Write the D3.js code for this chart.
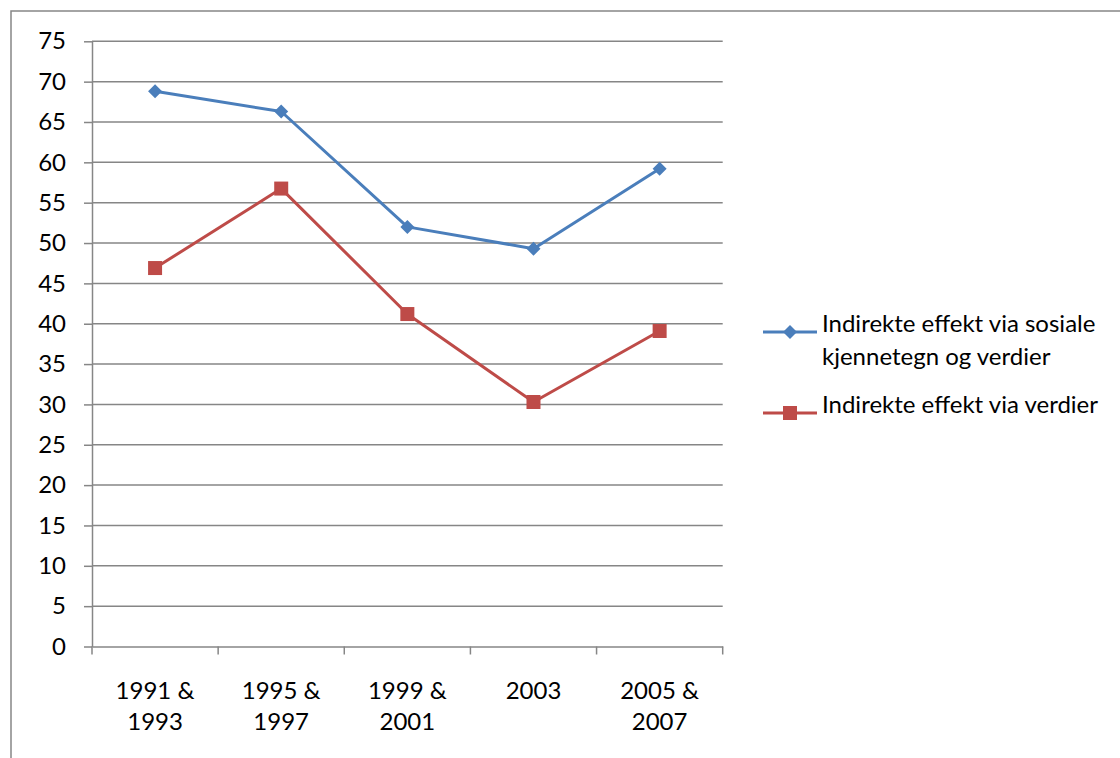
<!DOCTYPE html>
<html><head><meta charset="utf-8">
<script src="https://d3js.org/d3.v7.min.js"></script>
<style>
html,body{margin:0;padding:0;background:#fff;overflow:hidden}
text{font-family:Lato,"Open Sans",sans-serif;fill:#000}
</style></head>
<body>
<script>
const categories = [["1991 &","1993"],["1995 &","1997"],["1999 &","2001"],["2003"],["2005 &","2007"]];
const seriesNames = ["Indirekte effekt via sosiale kjennetegn og verdier","Indirekte effekt via verdier"];
const legendLines = [["Indirekte effekt via sosiale","kjennetegn og verdier"],["Indirekte effekt via verdier"]];
const sosiale = [68.8, 66.3, 52.0, 49.3, 59.2];
const verdier = [46.9, 56.75, 41.2, 30.3, 39.1];
const yTicks = [0,5,10,15,20,25,30,35,40,45,50,55,60,65,70,75];
const colors = ["#4A7EBB","#BE4B48"];

const W=1120,H=758;
const svg=d3.select("body").append("svg").attr("width",W).attr("height",H);
// outer chart border
svg.append("rect").attr("x",11).attr("y",11).attr("width",1200).attr("height",900)
  .attr("fill","#fff").attr("stroke","#868686").attr("stroke-width",1.5);

const L=92,R=722.7,T=41.3,B=646.5;
const x=d3.scaleBand().domain(d3.range(categories.length)).range([L,R]);
const y=d3.scaleLinear().domain([0,75]).range([B,T]);
const fs=24;

// gridlines
svg.append("g").selectAll("line").data(yTicks.filter(d=>d>0)).join("line")
  .attr("x1",L).attr("x2",R).attr("y1",d=>y(d)).attr("y2",d=>y(d))
  .attr("stroke","#868686").attr("stroke-width",1.5);

// y axis
const ya=svg.append("g").attr("transform",`translate(${L},0)`)
  .call(d3.axisLeft(y).tickValues(yTicks).tickSize(8).tickPadding(18).tickSizeOuter(0));
ya.select(".domain").attr("stroke","#868686").attr("stroke-width",1.5);
ya.selectAll(".tick line").attr("stroke","#868686").attr("stroke-width",1.5);
ya.selectAll(".tick text").attr("font-size",fs).attr("font-family","Lato").attr("fill","#000");

// x axis
const xa=svg.append("g").attr("transform",`translate(0,${B})`)
  .call(d3.axisBottom(x).tickSize(0).tickFormat(""));
xa.select(".domain").attr("stroke","#868686").attr("stroke-width",1.5);
const edges=d3.range(categories.length+1).map(i=> i<categories.length? x(i): x(categories.length-1)+x.bandwidth());
svg.append("g").selectAll("line").data(edges).join("line")
  .attr("x1",d=>d).attr("x2",d=>d).attr("y1",B).attr("y2",B+8)
  .attr("stroke","#868686").attr("stroke-width",1.5);
const cl=svg.append("g").selectAll("text").data(categories).join("text")
  .attr("text-anchor","middle").attr("font-size",fs)
  .attr("x",(d,i)=>x(i)+x.bandwidth()/2).attr("y",B+52);
cl.selectAll("tspan").data(d=>d).join("tspan")
  .attr("x",function(){return this.parentNode.getAttribute("x");})
  .attr("dy",(d,i)=>i?31:0).text(d=>d);

// lines
const cx=i=>x(i)+x.bandwidth()/2;
const line=d3.line().x((d,i)=>cx(i)).y(d=>y(d));
function drawSeries(vals,ci,shape){
  svg.append("path").datum(vals).attr("d",line).attr("fill","none")
    .attr("stroke",colors[ci]).attr("stroke-width",3).attr("stroke-linejoin","round");
  const g=svg.append("g");
  vals.forEach((v,i)=>drawMarker(g,cx(i),y(v),ci,shape));
}
function drawMarker(g,px,py,ci,shape){
  const s=7;
  if(shape==="d"){
    g.append("path").attr("d",`M${px},${py-s}L${px+s},${py}L${px},${py+s}L${px-s},${py}Z`).attr("fill",colors[ci]);
  } else {
    g.append("rect").attr("x",px-s).attr("y",py-s).attr("width",2*s).attr("height",2*s).attr("fill",colors[ci]);
  }
}
drawSeries(sosiale,0,"d");
drawSeries(verdier,1,"s");

// legend
const legY=[332,413];
legendLines.forEach((lines,k)=>{
  const g=svg.append("g");
  g.append("line").attr("x1",763).attr("x2",817).attr("y1",legY[k]).attr("y2",legY[k])
    .attr("stroke",colors[k]).attr("stroke-width",3);
  drawMarker(g,790,legY[k],k,k===0?"d":"s");
  const t=g.append("text").attr("x",822).attr("y",legY[k]).attr("dy","0.35em").attr("font-size",fs);
  t.selectAll("tspan").data(lines).join("tspan").attr("x",822).attr("dy",(d,i)=>i?33:0).text(d=>d);
});
</script>
</body></html>
